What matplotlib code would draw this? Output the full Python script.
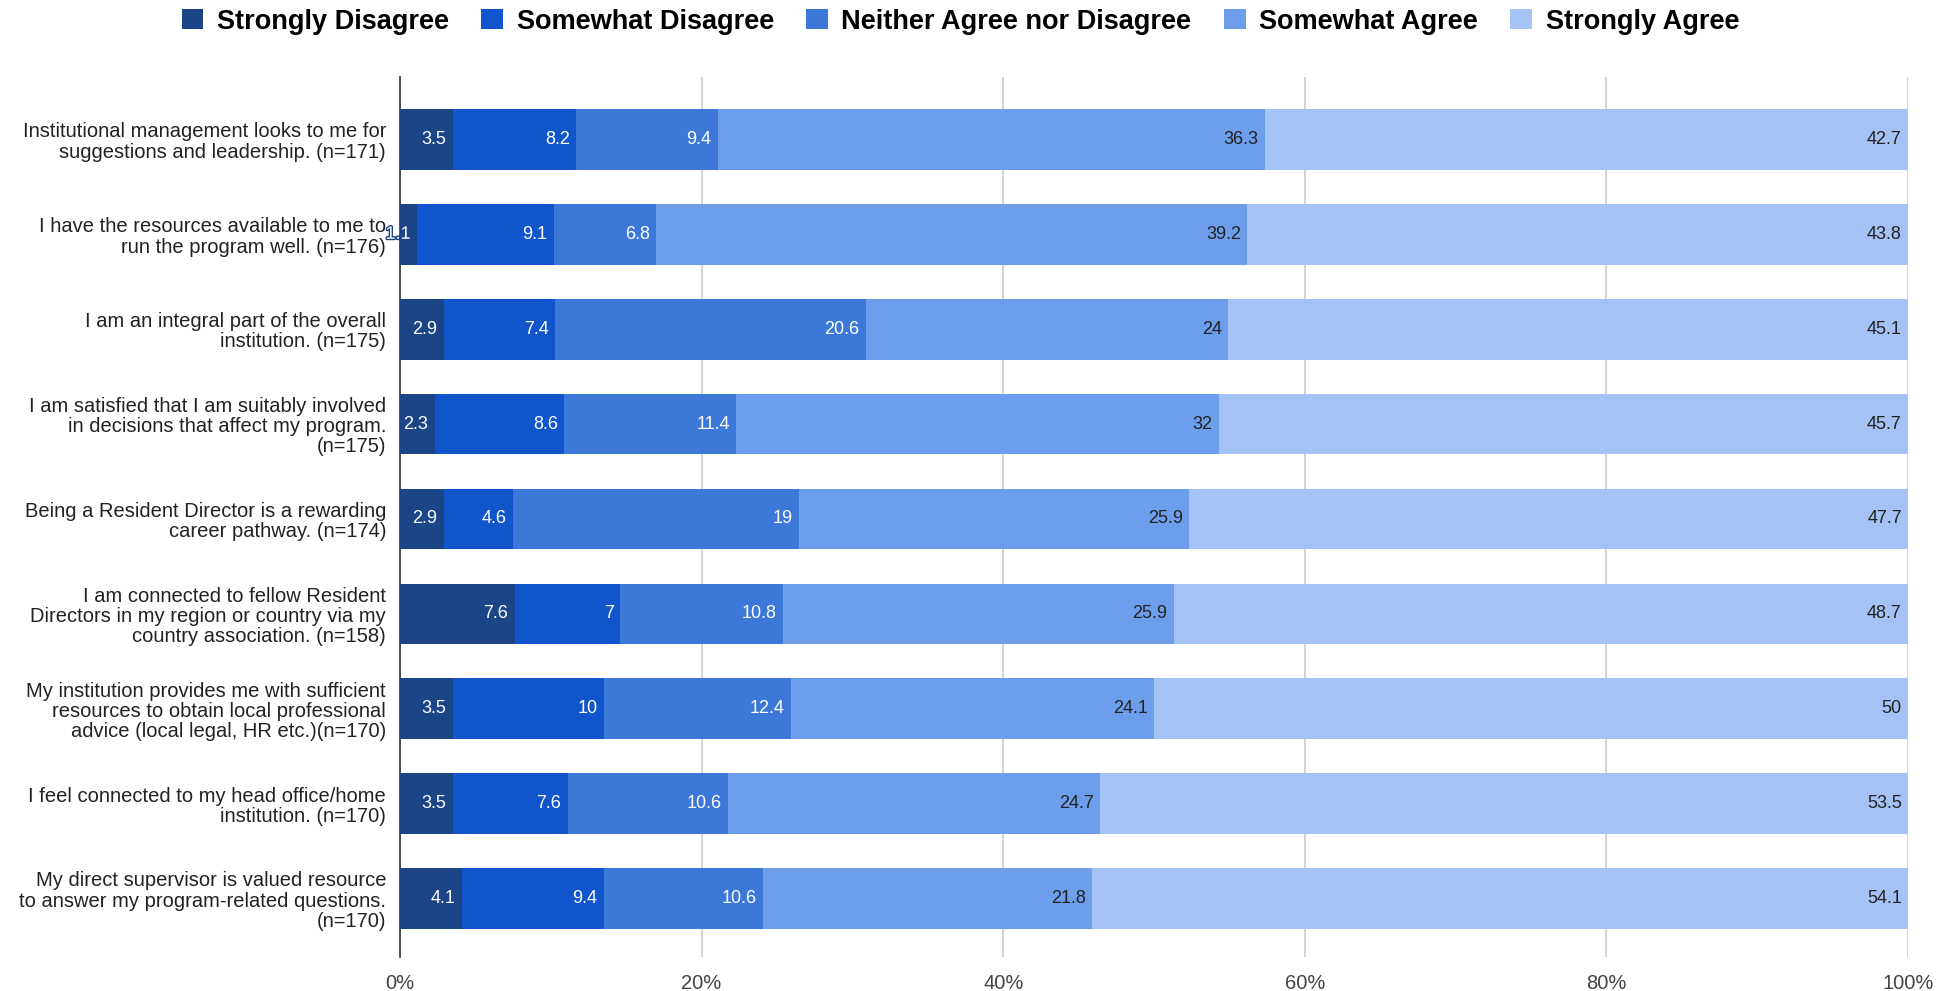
import matplotlib
matplotlib.use("Agg")
import matplotlib.pyplot as plt
import matplotlib.patheffects as pe
import numpy as np
from matplotlib.patches import Patch

plt.rcParams['font.family'] = ['Liberation Sans', 'DejaVu Sans']

categories = [
    "Institutional management looks to me for\nsuggestions and leadership. (n=171)",
    "I have the resources available to me to\nrun the program well. (n=176)",
    "I am an integral part of the overall\ninstitution. (n=175)",
    "I am satisfied that I am suitably involved\nin decisions that affect my program.\n(n=175)",
    "Being a Resident Director is a rewarding\ncareer pathway. (n=174)",
    "I am connected to fellow Resident\nDirectors in my region or country via my\ncountry association. (n=158)",
    "My institution provides me with sufficient\nresources to obtain local professional\nadvice (local legal, HR etc.)(n=170)",
    "I feel connected to my head office/home\ninstitution. (n=170)",
    "My direct supervisor is valued resource\nto answer my program-related questions.\n(n=170)",
]
series_names = ["Strongly Disagree", "Somewhat Disagree", "Neither Agree nor Disagree",
                "Somewhat Agree", "Strongly Agree"]
strongly_disagree = [3.5, 1.1, 2.9, 2.3, 2.9, 7.6, 3.5, 3.5, 4.1]
somewhat_disagree = [8.2, 9.1, 7.4, 8.6, 4.6, 7.0, 10.0, 7.6, 9.4]
neither = [9.4, 6.8, 20.6, 11.4, 19.0, 10.8, 12.4, 10.6, 10.6]
somewhat_agree = [36.3, 39.2, 24.0, 32.0, 25.9, 25.9, 24.1, 24.7, 21.8]
strongly_agree = [42.7, 43.8, 45.1, 45.7, 47.7, 48.7, 50.0, 53.5, 54.1]
tick_labels = ["0%", "20%", "40%", "60%", "80%", "100%"]

colors = ["#1c4587", "#1155cc", "#3c78d8", "#6d9eeb", "#a4c2f4"]
label_colors = ["white", "white", "white", "#222222", "#222222"]

data = np.array([strongly_disagree, somewhat_disagree, neither, somewhat_agree, strongly_agree])
totals = data.sum(axis=0)
norm = data / totals * 100

fig = plt.figure(figsize=(19.52, 9.91), dpi=100)
ax = fig.add_axes([400/1952, 1 - 957/991, (1908-400)/1952, (957-77)/991])

y = np.arange(len(categories))
left = np.zeros(len(categories))
for i in range(5):
    ax.barh(y, norm[i], left=left, height=0.64, color=colors[i], zorder=3,
            label=series_names[i])
    for j in range(len(categories)):
        t = ax.annotate(f"{data[i, j]:g}", xy=(left[j] + norm[i, j], y[j]), xytext=(-4.5, 0),
                        textcoords="offset points", ha="right", va="center",
                        fontsize=13, color=label_colors[i], zorder=4)
        if norm[i, j] < 2:
            t.set_path_effects([pe.withStroke(linewidth=2, foreground=colors[i])])
    left += norm[i]

ax.set_xlim(0, 100)
ax.set_ylim(8.616, -0.658)
ax.set_yticks(y)
ax.set_yticklabels(categories, fontsize=14.5, color="#222222", linespacing=1.08)
ax.tick_params(axis='y', length=0, pad=10)
ax.set_xticks([0, 20, 40, 60, 80, 100])
ax.set_xticklabels(tick_labels, fontsize=14.5, color="#444444")
ax.tick_params(axis='x', length=0, pad=12)
ax.grid(axis='x', color="#cccccc", linewidth=1.2, zorder=0)
for s in ["top", "right", "bottom"]:
    ax.spines[s].set_visible(False)
ax.spines["left"].set_color("#333333")
ax.spines["left"].set_linewidth(1.2)

handles = [Patch(facecolor=c, edgecolor='none') for c in colors]
fig.legend(handles, series_names, loc="upper center", bbox_to_anchor=(0.492, 1.016), ncol=5,
           frameon=False, prop={'size': 19.5, 'weight': 'bold'}, handlelength=0.8, handleheight=0.8,
           handletextpad=0.5, columnspacing=1.2)

fig.savefig("out.png", dpi=100, facecolor="white")
